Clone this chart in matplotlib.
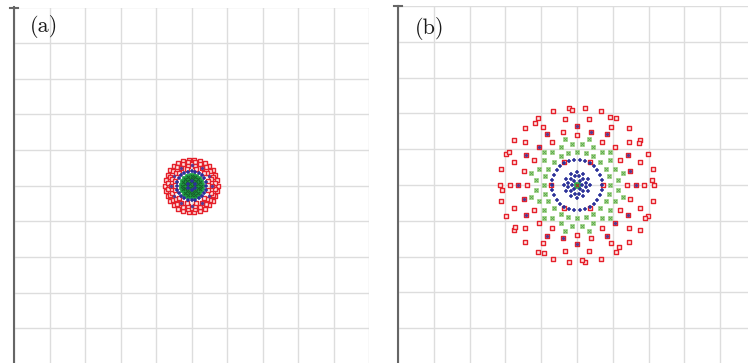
import matplotlib
matplotlib.use('Agg')
import matplotlib.pyplot as plt
import numpy as np

# rings of points: (radius in grid cells, number of points, angle offset in degrees)
a_red = [(0.74, 30, 0), (0.66, 24, 7.5), (0.57, 18, 0), (0.49, 12, 15)]
a_purple = [(0.57, 12, 0)]
a_blue = [(0.41, 24, 0), (0.12, 6, 30)]
a_green = [(0.27, 16, 0), (0.19, 12, 15), (0.10, 8, 0), (0.0, 1, 0)]

b_red = [(2.16, 30, 0), (2.10, 12, 4), (1.88, 18, 0), (1.65, 12, 0),
         (1.52, 12, 15), (1.40, 12, 0), (0.73, 6, 0)]
b_purple = [(1.65, 12, 0), (1.52, 6, 15)]
b_green = [(0.92, 24, 0), (1.15, 24, 7.5), (1.32, 12, 15)]
b_blue = [(0.70, 30, 0), (0.36, 12, 0), (0.25, 12, 15), (0.14, 6, 0)]
b_center = [(0.0, 1, 0)]

panel_labels = ['(a)', '(b)']
center = (5, 5)

W, H = 748, 363


def ring_xy(rings):
    xs, ys = [], []
    for r, n, off in rings:
        ang = np.deg2rad(off + 360.0 * np.arange(n) / n)
        xs.append(center[0] + r * np.cos(ang))
        ys.append(center[1] + r * np.sin(ang))
    return np.concatenate(xs), np.concatenate(ys)


def setup_axes(fig, left, top, w, h, label, lx, ly):
    ax = fig.add_axes([left / W, 1 - (top + h) / H, w / W, h / H])
    ax.set_xlim(0, 10)
    ax.set_ylim(0, 10)
    ax.set_xticks(range(11))
    ax.set_yticks(range(11))
    ax.tick_params(length=0, labelbottom=False, labelleft=False)
    ax.grid(True, color='#dddddd', lw=1.0)
    ax.set_axisbelow(True)
    for s in ['top', 'right', 'bottom']:
        ax.spines[s].set_visible(False)
    ax.spines['left'].set_color('#666666')
    ax.spines['left'].set_linewidth(1.5)
    # small cap on top of the axis line
    ax.plot([-0.012, 0.012], [1, 1], color='#666666', lw=1.5,
            transform=ax.transAxes, clip_on=False)
    ax.text(lx, ly, label, transform=fig.transFigure, fontsize=16,
            family='cmr10', ha='center', va='center', color='#1a1a1a')
    return ax


def draw_red(ax, rings, s=10):
    x, y = ring_xy(rings)
    ax.scatter(x, y, marker='s', s=s, facecolors='#fde8e8',
               edgecolors='#e5212b', linewidths=1.0, zorder=3)


def draw_purple(ax, rings):
    x, y = ring_xy(rings)
    ax.scatter(x, y, marker='o', s=6, color='#5a3a8e', lw=0, zorder=4)


def draw_green(ax, rings, face='#c6e7b2', edge='#95cd7b', cross='#5aa848', s=10):
    x, y = ring_xy(rings)
    ax.scatter(x, y, marker='s', s=s, facecolors=face,
               edgecolors=edge, linewidths=0.5, zorder=5)
    ax.scatter(x, y, marker='x', s=5, color=cross, lw=0.7, zorder=6)


def draw_blue(ax, rings, s=7):
    x, y = ring_xy(rings)
    ax.scatter(x, y, marker='+', s=s, color='#2c3199', lw=1.1, zorder=7)


fig = plt.figure(figsize=(W / 100, H / 100), dpi=100)
fig.patch.set_facecolor('white')

ax1 = setup_axes(fig, 14, 7.5, 355, 356.5, panel_labels[0], 44 / W, 1 - 26 / H)
draw_red(ax1, a_red, s=10)
draw_purple(ax1, a_purple)
draw_blue(ax1, a_blue[:1], s=6)
draw_green(ax1, a_green, face='#1f9e44', edge='#1f9e44', cross='#17602c', s=16)
draw_blue(ax1, a_blue[1:], s=5)

ax2 = setup_axes(fig, 398, 6, 358, 358, panel_labels[1], 430 / W, 1 - 28 / H)
draw_red(ax2, b_red)
draw_purple(ax2, b_purple)
draw_green(ax2, b_green)
draw_blue(ax2, b_blue)
draw_green(ax2, b_center, face='#2fa84f', edge='#2fa84f', cross='#b02020', s=20)

fig.savefig('out.png', dpi=100)
